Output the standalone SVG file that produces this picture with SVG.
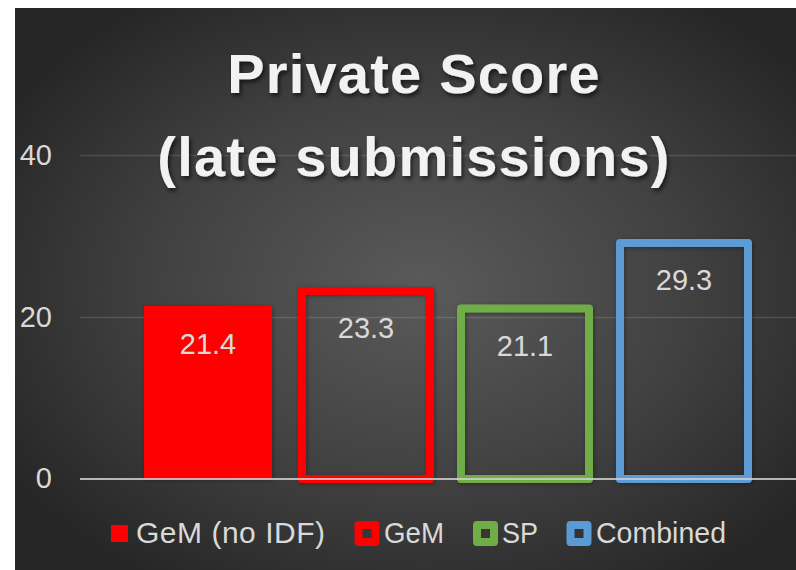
<svg xmlns="http://www.w3.org/2000/svg" width="796" height="570" viewBox="0 0 796 570">
<defs>
<radialGradient id="bg" cx="0.52" cy="0.5" r="0.62">
<stop offset="0" stop-color="#5a5a5a"/>
<stop offset="0.55" stop-color="#414141"/>
<stop offset="1" stop-color="#262626"/>
</radialGradient>
<filter id="tsh" x="-10%" y="-20%" width="120%" height="150%">
<feDropShadow dx="2" dy="3" stdDeviation="2" flood-color="#000" flood-opacity="0.6"/>
</filter>
<filter id="bsh" x="-10%" y="-10%" width="120%" height="120%">
<feDropShadow dx="1" dy="1" stdDeviation="2" flood-color="#000" flood-opacity="0.35"/>
</filter>
</defs>
<style>
.grid{stroke:#ffffff;stroke-opacity:0.13;stroke-width:1.5}
.axis{stroke:#cfcfcf;stroke-opacity:0.85;stroke-width:2}
.tick{font-family:"Liberation Sans",Arial,sans-serif;font-size:29px;fill:#d9d9d9;text-anchor:end}
.val{font-family:"Liberation Sans",Arial,sans-serif;font-size:29px;fill:#d9d9d9;text-anchor:middle}
.leg{font-family:"Liberation Sans",Arial,sans-serif;font-size:30px;fill:#d9d9d9}
.title{font-family:"Liberation Sans",Arial,sans-serif;font-size:56px;font-weight:bold;fill:#f2f2f2;text-anchor:middle;letter-spacing:1.2px}
.ob{fill:none;stroke-width:8;stroke-linejoin:round}
</style>
<rect x="0" y="0" width="796" height="570" fill="#ffffff"/>
<rect x="15" y="8" width="781" height="562" fill="url(#bg)"/>
<g id="gridlines">
<line class="grid" x1="80" y1="155.5" x2="796" y2="155.5"/>
<line class="grid" x1="80" y1="317.5" x2="796" y2="317.5"/>
</g>
<g id="axis-labels">
<text class="tick" x="52" y="165">40</text>
<text class="tick" x="52" y="327">20</text>
<text class="tick" x="52" y="488">0</text>
</g>
<g id="title" filter="url(#tsh)">
<text class="title" x="414" y="93">Private Score</text>
<text class="title" x="414" y="176">(late submissions)</text>
</g>
<g id="bar-gem-noidf" filter="url(#bsh)">
<rect x="144" y="306" width="128" height="173" fill="#ff0000"/>
</g>
<g id="bar-gem" filter="url(#bsh)">
<rect class="ob" x="302" y="291" width="128" height="188" stroke="#ff0000"/>
</g>
<g id="bar-sp" filter="url(#bsh)">
<rect class="ob" x="461" y="308.5" width="128" height="170.5" stroke="#70ad47"/>
</g>
<g id="bar-combined" filter="url(#bsh)">
<rect class="ob" x="620" y="243" width="128" height="236" stroke="#5b9bd5"/>
</g>
<g id="connectors">
<line class="axis" x1="80" y1="479" x2="796" y2="479"/>
</g>
<g id="values">
<text class="val" x="208" y="354">21.4</text>
<text class="val" x="366" y="338">23.3</text>
<text class="val" x="525" y="356">21.1</text>
<text class="val" x="684" y="290">29.3</text>
</g>
<g id="legend">
<rect x="111" y="525" width="17" height="17" fill="#ff0000"/>
<text class="leg" x="136" y="543" textLength="189" lengthAdjust="spacing">GeM (no IDF)</text>
<rect class="ob" x="358.5" y="525" width="17" height="17" stroke="#ff0000"/>
<text class="leg" x="384" y="543" textLength="60" lengthAdjust="spacingAndGlyphs">GeM</text>
<rect class="ob" x="477" y="525" width="17" height="17" stroke="#70ad47"/>
<text class="leg" x="502" y="543" textLength="36" lengthAdjust="spacingAndGlyphs">SP</text>
<rect class="ob" x="570.5" y="525" width="17" height="17" stroke="#5b9bd5"/>
<text class="leg" x="596" y="543" textLength="130" lengthAdjust="spacingAndGlyphs">Combined</text>
</g>
</svg>
